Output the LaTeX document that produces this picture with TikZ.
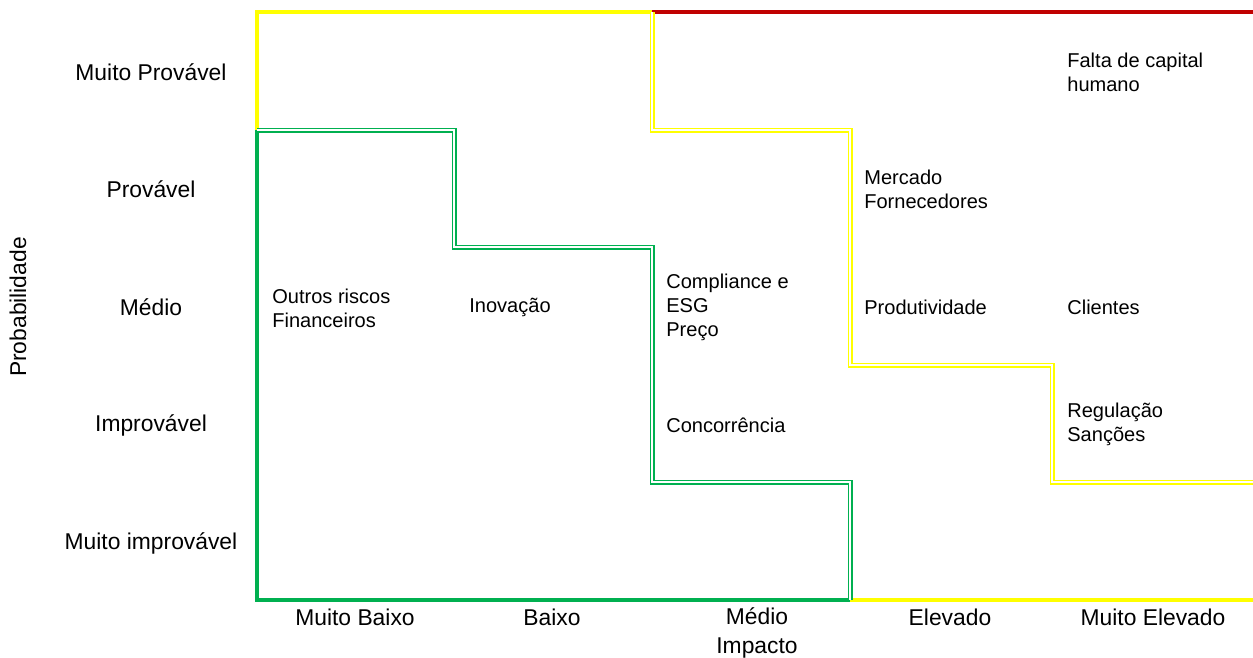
\documentclass[tikz,border=0pt]{standalone}
\usepackage{fontspec}
\setmainfont{Liberation Sans}
\usepackage{xcolor}
\usetikzlibrary{positioning}
\definecolor{lowcolor}{RGB}{0,176,80}
\definecolor{midcolor}{RGB}{255,255,0}
\definecolor{highcolor}{RGB}{192,0,0}

\tikzset{
    axislabel/.style={font=\fontsize{13}{16.4}\selectfont,inner sep=0pt},
    risklabel/.style={font=\fontsize{11.4}{13.7}\selectfont,anchor=west,align=left,inner sep=0pt},
    zoneedge/.style={line width=2.3pt},
    zoneborder/.style={double,line width=1pt,double distance=0.85pt}
}

\begin{document}
\begin{tikzpicture}[x=0.02cm,y=-0.02cm]
    \useasboundingbox (0,0) rectangle (1253,657);

    % Draw outer edges of the zones
    \draw[zoneedge,midcolor] (257,130) -- (257,12) -- (652,12);
    \draw[zoneedge,highcolor] (652,12) -- (1253,12);
    \draw[zoneedge,lowcolor] (257,130) -- (257,600) -- (850,600);
    \draw[zoneedge,midcolor] (850,600) -- (1253,600);

    % Draw border between high and medium risk
    \draw[zoneborder,midcolor] (652,12) -- (652,130) -- (850,130) -- (850,365)
        -- (1052,365) -- (1052,482) -- (1253,482);

    % Draw border between medium and low risk
    \draw[zoneborder,lowcolor] (257,130) -- (454,130) -- (454,247) -- (652,247)
        -- (652,482) -- (850,482) -- (850,600);

    % Probability labels
    \foreach \name/\txt/\y in {vhigh/Muito Provável/72, high/Provável/189,
        mid/Médio/307, low/Improvável/425, vlow/Muito improvável/543} {
        \node[axislabel] (p-\name) at (151,\y) {\txt};
    }
    \node[axislabel,rotate=90] (prob) at (18,307) {Probabilidade};

    % Impact labels
    \foreach \name/\txt/\x in {vlow/Muito Baixo/355, low/Baixo/552,
        high/Elevado/950, vhigh/Muito Elevado/1153} {
        \node[axislabel] (i-\name) at (\x,617) {\txt};
    }
    \node[axislabel,align=center] (i-mid) at (757,633) {Médio\\Impacto};

    % Risks
    \node[risklabel] (fin) at (272,308) {Outros riscos\\Financeiros};
    \node[risklabel] (inov) at (469,307) {Inovação};
    \node[risklabel] (comp) at (666,307) {Compliance e\\ESG\\Preço};
    \node[risklabel] (conc) at (666,425) {Concorrência};
    \node[risklabel] (merc) at (864,189) {Mercado\\Fornecedores};
    \node[risklabel] (prod) at (864,307) {Produtividade};
    \node[risklabel] (falta) at (1067,72) {Falta de capital\\humano};
    \node[risklabel] (cli) at (1067,307) {Clientes};
    \node[risklabel] (reg) at (1067,424) {Regulação\\Sanções};
\end{tikzpicture}
\end{document}
